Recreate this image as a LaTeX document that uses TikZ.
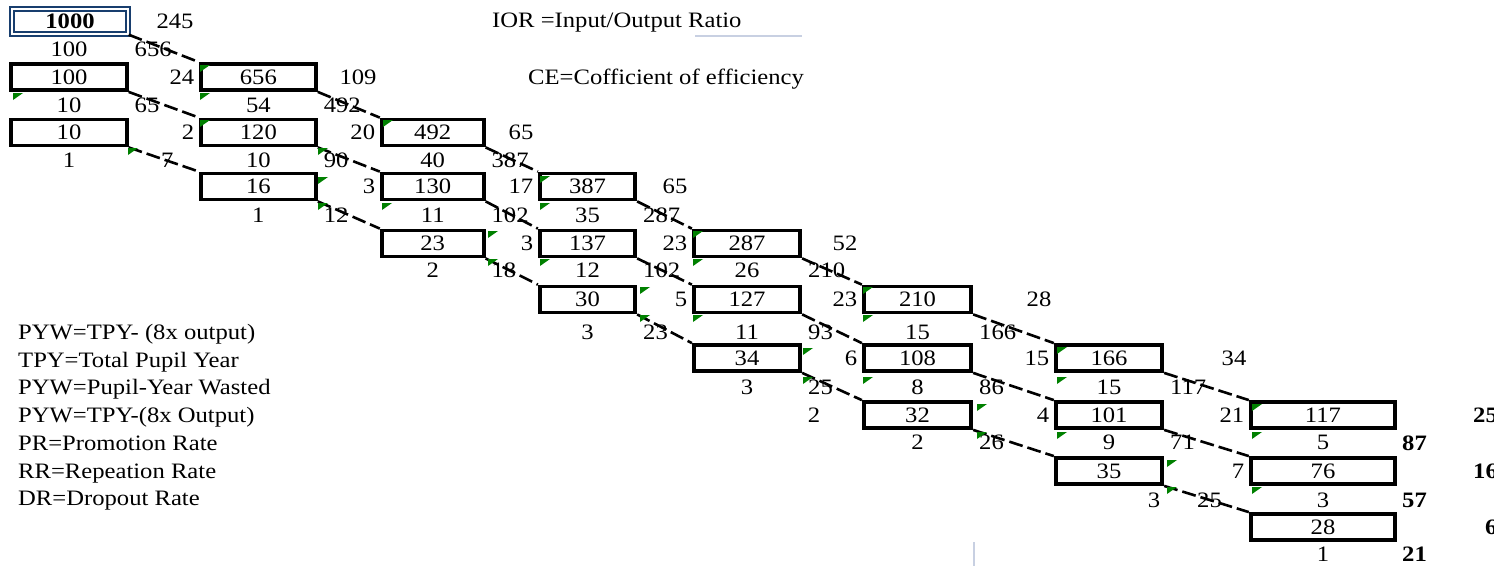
\documentclass[tikz,border=0pt]{standalone}
\usepackage{fontspec}
\setmainfont{Liberation Serif}[FakeStretch=1.12]
\usetikzlibrary{positioning}
\definecolor{cellgreen}{RGB}{0,128,0}
\definecolor{headblue}{RGB}{24,62,110}
\definecolor{gridgray}{RGB}{200,208,226}

\begin{document}
\begin{tikzpicture}[x=1pt,y=-1pt,
    every node/.style={font=\fontsize{22}{25}\selectfont,inner sep=0pt},
    cell/.style={draw,line width=3.8pt,minimum height=26pt},
    flow/.style={line width=2.6pt,dash pattern=on 14pt off 5pt},
    total/.style={font=\fontsize{22}{25}\selectfont\bfseries,anchor=west}]
    \useasboundingbox (0,0) rectangle (1494,566);
    \def\colx{{69,258.4,432.7,587.5,747,917.5,1109,1323}}
    \def\colw{{115.5,115,102,95.5,106.5,107.5,106.5,144.5}}
    \def\rowy{{21.5,77,132.5,186.5,243.5,299.5,358,415,471,527}}
    \def\midy{{49.5,105,160,215.5,270.5,332,387.5,442.5,500,554.5}}
    %draw boxes
    \node[cell,draw=headblue,double,line width=2pt,double distance=2pt,
        minimum width=115.4pt,minimum height=25pt] (b0-0) at (70,21.2) {\bfseries 1000};
    \foreach \c/\r/\v in {0/1/100,0/2/10,1/1/656,1/2/120,1/3/16,2/2/492,2/3/130,2/4/23,
        3/3/387,3/4/137,3/5/30,4/4/287,4/5/127,4/6/34,5/5/210,5/6/108,5/7/32,
        6/6/166,6/7/101,6/8/35,7/7/117,7/8/76,7/9/28}
        {%
            \pgfmathsetmacro\bx{\colx[\c]}
            \pgfmathsetmacro\by{\rowy[\r]}
            \pgfmathsetmacro\bw{\colw[\c]}
            \node[cell,minimum width=\bw pt] (b\c-\r) at (\bx,\by) {\v};
        }
    %draw flows
    \foreach \c in {0,...,6}
        \foreach \k in {0,1,2}
        {%
            \pgfmathtruncatemacro\r{\c+\k}
            \pgfmathtruncatemacro\cn{\c+1}
            \pgfmathtruncatemacro\rn{\r+1}
            \draw[flow] (b\c-\r.south east) -- (b\cn-\rn.north west);
        }
    %repeaters
    \foreach \c/\r/\v in {0/0/100,0/1/10,0/2/1,1/1/54,1/2/10,1/3/1,2/2/40,2/3/11,2/4/2,
        3/3/35,3/4/12,3/5/3,4/4/26,4/5/11,4/6/3,5/5/15,5/6/8,5/7/2,
        6/6/15,6/7/9,7/7/5,7/8/3,7/9/1}
        {%
            \pgfmathsetmacro\bx{\colx[\c]}
            \pgfmathsetmacro\ly{\midy[\r]}
            \node (rp\c-\r) at (\bx,\ly) {\v};
        }
    \node (rp6-8) at (1154,500) {3};
    %promoted
    \foreach \c/\r/\v in {0/0/656,0/1/65,1/1/492,1/2/90,1/3/12,2/2/387,2/3/102,2/4/18,
        3/3/287,3/4/102,3/5/23,4/4/210,4/5/93,4/6/25,5/5/166,5/6/86,5/7/26,
        6/6/117,6/7/71}
        {%
            \pgfmathsetmacro\lx{\colx[\c]+\colw[\c]/2+7.75}
            \pgfmathsetmacro\ly{\midy[\r]}
            \node[anchor=west] (pr\c-\r) at (\lx,\ly) {\v};
        }
    \node[anchor=west] (pr0-2) at (161,160) {7};
    \node[anchor=west] (pr6-8) at (1197,500) {25};
    %dropouts
    \foreach \c/\r/\v in {1/1/24,1/2/2,2/2/20,2/3/3,3/3/17,3/4/3,4/4/23,4/5/5,
        5/5/23,5/6/6,6/6/15,6/7/4,7/7/21,7/8/7}
        {%
            \node[left=4.5pt of b\c-\r] (dp\c-\r) {\v};
        }
    \foreach \r/\x/\v in {0/175/245,1/358/109,2/521/65,3/675/65,4/845/52,5/1039/28,6/1234/34}
        {%
            \pgfmathsetmacro\ly{\rowy[\r]}
            \node (dr\r) at (\x,\ly) {\v};
        }
    \node (dx7) at (814,415) {2};
    %totals
    \node[total] (tot1) at (1402,443) {87};
    \node[total] (tot2) at (1402,500) {57};
    \node[total] (tot3) at (1402,554.5) {21};
    \node[total] (end1) at (1473,415) {25};
    \node[total] (end2) at (1473,471) {16};
    \node[total] (end3) at (1485,527) {6};
    %notes
    \node[anchor=base west] (ior) at (492,27.5) {IOR =Input/Output Ratio};
    \node[anchor=base west] (ce) at (528,84) {CE=Cofficient of efficiency};
    \draw[gridgray,line width=1.5pt] (695,36) -- (802,36);
    \draw[gridgray,line width=2.5pt] (974,542) -- (974,566);
    \foreach \t [count=\i from 0] in {PYW=TPY- (8x output),TPY=Total Pupil Year,
        PYW=Pupil-Year Wasted,PYW=TPY-(8x Output),PR=Promotion Rate,
        RR=Repeation Rate,DR=Dropout Rate}
        {%
            \node[anchor=base west] (key\i) at (18,{339.5+27.7*\i}) {\t};
        }
    %green corner marks
    \foreach \x/\y in {13/93,200/65,200/93,200/120,128/148,318/148,318/177,318/203,
        382/203,383/120,488/231,488/259,540/176,540/203,540/259,640/287,640/315,
        693/231,693/259,693/315,863/287,863/315,803/348,803/377,863/377,1057/347,
        1057/377,977/404,977/432,1057/432,1252/404,1252/432,1167/460,1167/487,1252/487}
        {%
            \fill[cellgreen] (\x,\y) -- ++(10,0) -- ++(-10,7) -- cycle;
        }
\end{tikzpicture}
\end{document}
